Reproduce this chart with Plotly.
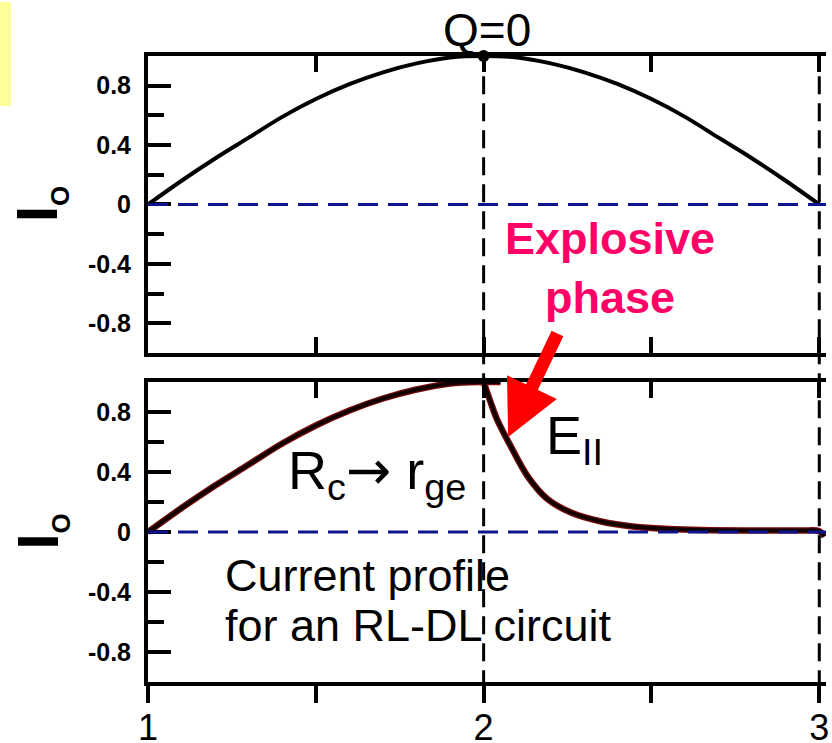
import plotly.graph_objects as go

# ---------------- data ----------------
x_top = [1.0, 1.1, 1.2, 1.3, 1.4, 1.5, 1.6, 1.7, 1.8, 1.9, 2.0,
         2.1, 2.2, 2.3, 2.4, 2.5, 2.6, 2.7, 2.8, 2.9, 3.0]
i_top = [0.0, 0.16, 0.31, 0.45, 0.59, 0.71, 0.81, 0.89, 0.95, 0.99, 1.0,
         0.99, 0.95, 0.89, 0.81, 0.71, 0.59, 0.45, 0.31, 0.16, 0.0]

x_rise = [1.0, 1.1, 1.2, 1.3, 1.4, 1.5, 1.6, 1.7, 1.8, 1.9, 2.0, 2.05]
i_rise = [0.0, 0.16, 0.31, 0.45, 0.59, 0.71, 0.81, 0.89, 0.95, 0.99, 1.0, 1.0]

x_decay = [2.0, 2.02, 2.04, 2.08, 2.13, 2.19, 2.26, 2.35, 2.45, 2.55, 2.65, 2.8, 2.95, 3.0, 3.015]
i_decay = [1.0, 0.87, 0.75, 0.575, 0.375, 0.22, 0.13, 0.07, 0.035, 0.02, 0.013, 0.01, 0.01, 0.005, -0.03]

q_point_x = [2.0]
q_point_y = [1.0]

y_tick_vals = [-0.8, -0.4, 0, 0.4, 0.8]
y_tick_text = ["-0.8", "-0.4", "0", "0.4", "0.8"]
y_minor_vals = [-0.6, -0.2, 0.2, 0.6]
x_tick_vals = [1, 1.5, 2, 2.5, 3]
x_tick_text = ["1", "", "2", "", "3"]
marker_lines_x = [2, 3]

FONT = "Liberation Sans, Arial, Helvetica, sans-serif"
X_RANGE = [1, 3.02]

fig = go.Figure()

# top panel curve + Q=0 point
fig.add_trace(go.Scatter(x=x_top, y=i_top, mode="lines", line=dict(color="black", width=4, shape="spline"),
                         xaxis="x", yaxis="y", showlegend=False, hoverinfo="skip"))
fig.add_trace(go.Scatter(x=q_point_x, y=q_point_y, mode="markers", marker=dict(color="black", size=12),
                         xaxis="x", yaxis="y", showlegend=False, hoverinfo="skip", cliponaxis=False))

# bottom panel curves (dark red edge + black core)
for col, w in (("#7a0c0c", 6.5), ("#120000", 4)):
    fig.add_trace(go.Scatter(x=x_rise, y=i_rise, mode="lines", line=dict(color=col, width=w, shape="spline"),
                             xaxis="x2", yaxis="y2", showlegend=False, hoverinfo="skip", cliponaxis=False))
    fig.add_trace(go.Scatter(x=x_decay, y=i_decay, mode="lines", line=dict(color=col, width=w, shape="spline"),
                             xaxis="x2", yaxis="y2", showlegend=False, hoverinfo="skip", cliponaxis=False))

# invisible trace for the top-mirror axis of the bottom panel
fig.add_trace(go.Scatter(x=[1], y=[0], mode="markers", marker=dict(opacity=0), xaxis="x3", yaxis="y2",
                         showlegend=False, hoverinfo="skip"))

axis_common = dict(showline=True, linecolor="black", linewidth=4, showgrid=False, zeroline=False,
                   automargin=False)

ytick = dict(tickmode="array", tickvals=y_tick_vals, ticktext=y_tick_text, ticks="inside", ticklen=23,
             tickwidth=3.5, tickcolor="black", range=[-1, 1],
             tickfont=dict(family=FONT, size=25, color="black", weight="bold"),
             ticklabelstandoff=8,
             minor=dict(tickmode="array", tickvals=y_minor_vals, ticks="inside", ticklen=16,
                        tickwidth=3.5, tickcolor="black", showgrid=False))

fig.update_layout(
    width=832, height=743, autosize=False,
    margin=dict(l=148, r=6, t=56, b=61, autoexpand=False),
    paper_bgcolor="white", plot_bgcolor="white",
    xaxis=dict(**axis_common, domain=[0, 1], anchor="y", range=X_RANGE, tickmode="array",
               tickvals=x_tick_vals, ticks="inside", ticklen=16, tickwidth=3.5, tickcolor="black",
               mirror="ticks", showticklabels=False),
    yaxis=dict(**axis_common, domain=[0.5256, 1], anchor="x", **ytick),
    xaxis2=dict(**axis_common, domain=[0, 1], anchor="y2", range=X_RANGE, tickmode="array",
                tickvals=x_tick_vals, ticktext=x_tick_text, ticks="outside", ticklen=17, tickwidth=3.5,
                tickcolor="black", tickfont=dict(family=FONT, size=36, color="black"),
                ticklabelstandoff=-6),
    xaxis3=dict(**axis_common, overlaying="x2", anchor="y2", side="top", range=X_RANGE, tickmode="array",
                tickvals=x_tick_vals, ticks="inside", ticklen=16, tickwidth=3.5, tickcolor="black",
                showticklabels=False),
    yaxis2=dict(**axis_common, domain=[0, 0.4792], anchor="x2", **ytick),
)

shapes = []
# vertical dashed lines through both panels
for xv in marker_lines_x:
    shapes.append(dict(type="line", xref="x", yref="paper", x0=xv, x1=xv, y0=-0.01, y1=1,
                       line=dict(color="black", width=3, dash="18px,9px"), layer="above"))
# blue dashed zero lines
for yr, xr in (("y", "x domain"), ("y2", "x2 domain")):
    shapes.append(dict(type="line", xref=xr, yref=yr, x0=0, x1=1, y0=0, y1=0,
                       line=dict(color="#0d158c", width=3, dash="20px,10px"), layer="above"))
# yellow box at top-left
shapes.append(dict(type="rect", xref="paper", yref="paper", x0=-0.2183, x1=-0.2021, y0=0.920, y1=1.0863,
                   fillcolor="#FFFF99", line=dict(width=0), layer="below"))
fig.update_layout(shapes=shapes)

ann = []
ann.append(dict(text="Q=0", xref="x", yref="paper", x=2.01, y=1.042, showarrow=False,
                font=dict(family=FONT, size=46, color="black"), xanchor="center", yanchor="middle"))
ann.append(dict(text="<b>Explosive<br>phase</b>", xref="x", yref="paper", x=2.377, y=0.661, showarrow=False,
                font=dict(family=FONT, size=45, color="#FF0066"), xanchor="center", yanchor="middle"))
ann.append(dict(text="", xref="x2", yref="y2", x=2.073, y=0.633, ax=50, ay=-105, showarrow=True,
                arrowhead=2, arrowwidth=13, arrowsize=0.85, arrowcolor="#FF0000"))
ann.append(dict(text="E<sub>II</sub>", xref="x2", yref="y2", x=2.272, y=0.62, showarrow=False,
                font=dict(family=FONT, size=54, color="black"), xanchor="center", yanchor="middle"))
ann.append(dict(text="R<sub>c</sub><span style='font-family:DejaVu Sans'>\u2192</span> r<sub>ge</sub>",
                xref="x2", yref="y2", x=1.682, y=0.39,
                showarrow=False, font=dict(family=FONT, size=54, color="black"),
                xanchor="center", yanchor="middle"))
ann.append(dict(text="Current profile", xref="x2", yref="y2", x=1.222, y=-0.287, showarrow=False,
                font=dict(family=FONT, size=45, color="black"), xanchor="left", yanchor="middle"))
ann.append(dict(text="for an RL-DL circuit", xref="x2", yref="y2", x=1.222, y=-0.62, showarrow=False,
                font=dict(family=FONT, size=45, color="black"), xanchor="left", yanchor="middle"))
for yr in ("y", "y2"):
    ann.append(dict(text="<b>I</b><sub><b><span style='font-size:26px'>O</span></b></sub>",
                    xref="paper", yref=yr, x=-0.16, y=0.0, showarrow=False, textangle=-90,
                    font=dict(family=FONT, size=58, color="black"), xanchor="center", yanchor="middle"))
fig.update_layout(annotations=ann)

# remove the default 8px page margin so the 832x743 figure fills the window exactly
fig.write_html("out.html", config={"displayModeBar": False},
               post_script="document.body.style.margin='0';")
